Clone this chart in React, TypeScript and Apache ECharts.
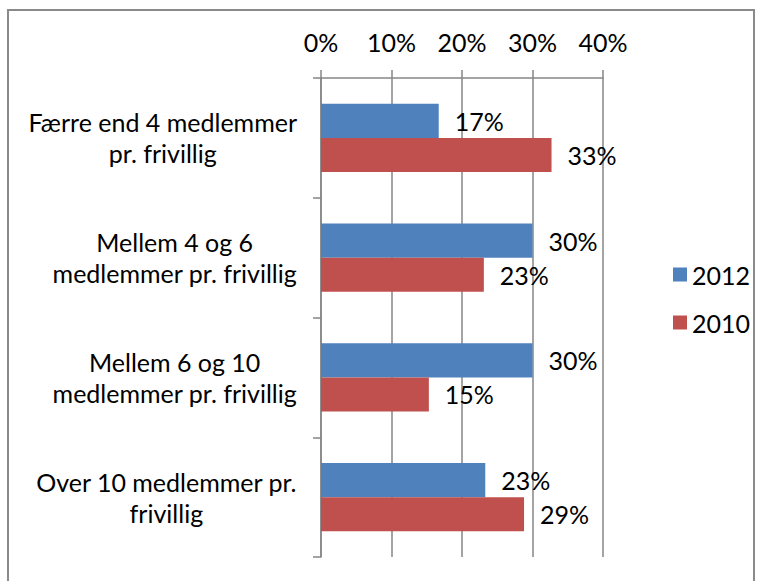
import React, { useEffect, useRef } from "react";
import * as echarts from "echarts";

const categories = [
  "Færre end 4 medlemmer\npr. frivillig",
  "Mellem 4 og 6\nmedlemmer pr. frivillig",
  "Mellem 6 og 10\nmedlemmer pr. frivillig",
  "Over 10 medlemmer pr.\nfrivillig",
];
const seriesNames = ["2012", "2010"];
const values2012 = [16.7, 30.0, 30.0, 23.3];
const values2010 = [32.7, 23.1, 15.3, 28.8];
const xTicks = [0, 10, 20, 30, 40];

const FONT = "Lato";
const FS = 25;

export default function App() {
  const ref = useRef<HTMLDivElement>(null);
  useEffect(() => {
    const chart = echarts.init(ref.current!, null, { renderer: "svg" });
    const lbl = {
      show: true,
      position: "right",
      distance: 16,
      fontFamily: FONT,
      fontSize: FS,
      color: "#000",
      formatter: (p: any) => Math.round(p.value) + "%",
    };
    chart.setOption({
      animation: false,
      backgroundColor: "#fff",
      textStyle: { fontFamily: FONT },
      graphic: [
        {
          type: "rect",
          shape: { x: 8, y: 10, width: 746, height: 620 },
          style: { fill: "none", stroke: "#8a8a8a", lineWidth: 2 },
          silent: true,
        },
      ],
      legend: {
        orient: "vertical",
        left: 668,
        top: 257,
        itemWidth: 14,
        itemHeight: 14,
        itemGap: 23,
        icon: "rect",
        data: seriesNames,
        textStyle: { fontFamily: FONT, fontSize: FS, lineHeight: 25, color: "#000" },
      },
      grid: { left: 321, right: 156, top: 78, bottom: 24 },
      xAxis: {
        type: "value",
        position: "top",
        min: xTicks[0],
        max: xTicks[xTicks.length - 1],
        interval: 10,
        axisLine: { show: true, lineStyle: { color: "#868686", width: 1.5 } },
        axisTick: { show: true, length: 8, lineStyle: { color: "#868686", width: 1.5 } },
        splitLine: { show: true, lineStyle: { color: "#868686", width: 1.5 } },
        axisLabel: {
          margin: 24,
          fontFamily: FONT,
          fontSize: FS,
          color: "#000",
          formatter: "{value}%",
        },
      },
      yAxis: {
        type: "category",
        inverse: true,
        data: categories,
        axisLine: { show: true, lineStyle: { color: "#868686", width: 1.5 } },
        axisTick: { show: true, length: 8, lineStyle: { color: "#868686", width: 1.5 } },
        axisLabel: {
          margin: 24,
          color: "#000",
          fontFamily: FONT,
          fontSize: FS,
          lineHeight: 31,
          formatter: (v: string) =>
            v
              .split("\n")
              .map((l) => "{c|" + l + "}")
              .join("\n"),
          rich: {
            c: { align: "center", fontFamily: FONT, fontSize: FS, lineHeight: 31, color: "#000" },
          },
        },
      },
      series: [
        {
          name: seriesNames[0],
          type: "bar",
          data: values2012,
          barGap: "0%",
          barCategoryGap: "43%",
          itemStyle: { color: "#4F81BD" },
          label: lbl,
        },
        {
          name: seriesNames[1],
          type: "bar",
          data: values2010,
          barGap: "0%",
          barCategoryGap: "43%",
          itemStyle: { color: "#C0504D" },
          label: lbl,
        },
      ],
    });
    return () => chart.dispose();
  }, []);
  return (
    <div
      ref={ref}
      style={{ position: "fixed", left: 0, top: 0, width: 759, height: 581 }}
    />
  );
}
